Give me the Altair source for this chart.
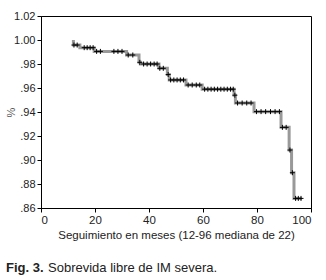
import altair as alt
import pandas as pd

# Kaplan-Meier step curve (months, survival)
step_month = [12, 12, 14.4, 19.7, 31.7, 36.3, 36.8, 43.7, 46.8, 47.5, 53.7, 59.7, 71.5, 72.0, 78.9, 88.9, 91.9, 92.8, 93.7, 96.6]
step_surv = [1.0, 0.9958, 0.9936, 0.9905, 0.9875, 0.9814, 0.980, 0.9764, 0.9712, 0.9667, 0.9625, 0.959, 0.954, 0.9475, 0.9403, 0.9272, 0.9083, 0.8894, 0.868, 0.868]

# Censored observations (months, survival)
cens_month = [12.2, 13.4, 16.0, 17.1, 18.2, 19.3, 20.6, 22.0, 27.0, 28.5, 30.0, 32.3, 34.0, 36.6,
              38.0, 39.3, 40.6, 41.9, 43.0, 44.0, 45.3, 47.1, 48.0, 49.2, 50.4, 51.6, 52.8,
              54.5, 56.0, 57.5, 58.8, 60.6, 61.8, 63.0, 64.2, 65.4, 66.6, 67.8, 69.0, 70.2, 71.2,
              71.8, 72.8, 74.5, 76.2, 77.8, 79.8, 81.5, 83.2, 85.0, 86.7, 88.3, 89.4, 90.8,
              92.2, 93.1, 94.3, 95.3, 96.3]
cens_surv = [0.9958, 0.9958, 0.9936, 0.9936, 0.9936, 0.9936, 0.9905, 0.9905, 0.9905, 0.9905, 0.9905,
             0.9875, 0.9875, 0.9814, 0.980, 0.980, 0.980, 0.980, 0.980, 0.9764, 0.9764, 0.9712,
             0.9667, 0.9667, 0.9667, 0.9667, 0.9667, 0.9625, 0.9625, 0.9625, 0.9625,
             0.959, 0.959, 0.959, 0.959, 0.959, 0.959, 0.959, 0.959, 0.959, 0.959,
             0.954, 0.9475, 0.9475, 0.9475, 0.9475, 0.9403, 0.9403, 0.9403, 0.9403, 0.9403, 0.9403,
             0.9272, 0.9272, 0.9083, 0.8894, 0.868, 0.868, 0.868]

x_ticks = [0, 20, 40, 60, 80, 100]
y_ticks = [0.86, 0.88, 0.90, 0.92, 0.94, 0.96, 0.98, 1.00, 1.02]

steps = pd.DataFrame({"mes": step_month, "surv": step_surv})
cens = pd.DataFrame({"mes": cens_month, "surv": cens_surv})

FONT = "Liberation Sans"
TXT = "#222222"

xs = alt.Scale(domain=[0, 100], nice=False, zero=False)
ys = alt.Scale(domain=[0.86, 1.02], nice=False, zero=False)

x_axis = alt.Axis(values=x_ticks, title="Seguimiento en meses (12-96 mediana de 22)", grid=False,
                  tickSize=4, labelPadding=2, labelFontSize=11.5, titleFontSize=11.5,
                  titleFontWeight="normal", titlePadding=4, domainColor="black", tickColor="black",
                  labelColor=TXT, titleColor=TXT, labelFont=FONT, titleFont=FONT,
                  labelOverlap=False)
y_axis = alt.Axis(values=y_ticks, title="%", grid=False, tickSize=4, labelPadding=2,
                  labelFontSize=11, titleFontSize=11, titleFontWeight="normal",
                  domainColor="black", tickColor="black", labelColor=TXT, titleColor="#555555",
                  labelFont=FONT, titleFont=FONT, titleX=-25, titleY=96,
                  labelOverlap=False, labelBound=False,
                  labelExpr="datum.value < 1 ? slice(format(datum.value, '.2f'), 1) : format(datum.value, '.2f')")

line = alt.Chart(steps).mark_line(interpolate="step-after", color="#999999", strokeWidth=3).encode(
    x=alt.X("mes:Q", scale=xs, axis=x_axis),
    y=alt.Y("surv:Q", scale=ys, axis=y_axis),
)

marks = alt.Chart(cens).mark_point(
    shape="M -1 0 L 1 0 M 0 -1 L 0 1", filled=False, color="black", strokeWidth=1, size=25, opacity=1
).encode(x=alt.X("mes:Q", scale=xs, axis=x_axis), y=alt.Y("surv:Q", scale=ys, axis=y_axis))

caption = alt.Chart(pd.DataFrame({"t": ["Fig. 3."]})).mark_text(
    align="left", baseline="middle", font=FONT, fontSize=13, fontWeight="bold", color=TXT
).encode(text="t:N", x=alt.value(-35), y=alt.value(252))

caption2 = alt.Chart(pd.DataFrame({"t": ["Sobrevida libre de IM severa."]})).mark_text(
    align="left", baseline="middle", font=FONT, fontSize=13, color=TXT
).encode(text="t:N", x=alt.value(7), y=alt.value(252))

chart = (
    alt.layer(line, marks, caption, caption2)
    .properties(
        width=270, height=192,
        autosize=alt.AutoSizeParams(type="none"),
        padding={"left": 41, "top": 16, "right": 15, "bottom": 72},
        background="white",
    )
    .configure_view(stroke="black", strokeWidth=1)
    .configure_axis(labelOverlap=False)
)

chart.save("out.html", embed_options={"renderer": "svg", "actions": False})
